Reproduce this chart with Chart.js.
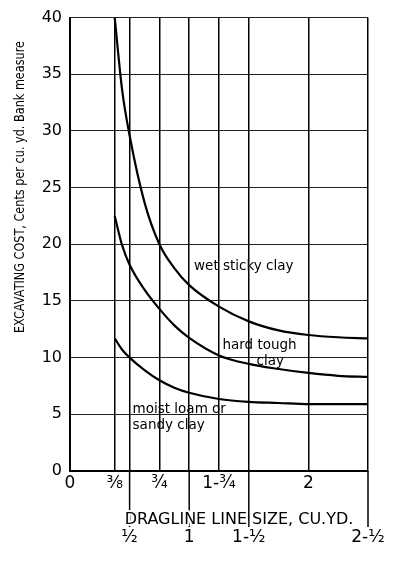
<!DOCTYPE html>
<html>
<head>
<meta charset="utf-8">
<script src="https://cdn.jsdelivr.net/npm/chart.js@4/dist/chart.umd.min.js"></script>
<style>
  html, body { margin: 0; padding: 0; background: #fff; }
  #wrap { width: 400px; height: 565px; position: relative; }
</style>
</head>
<body>
<div id="wrap"><canvas id="costChart"></canvas></div>
<script>
// dragline line size, cu. yd.
const lineSizes = [0.375, 0.4375, 0.5, 0.625, 0.75, 0.875, 1, 1.25, 1.5, 1.75, 2, 2.25, 2.5];

// excavating cost, cents per cu. yd. bank measure
const wetStickyClay = [40, 33.6, 29.6, 23.7, 20.0, 17.9, 16.4, 14.5, 13.2, 12.4, 12.0, 11.8, 11.7];
const hardToughClay = [22.5, 19.9, 18.2, 16.0, 14.3, 12.85, 11.75, 10.2, 9.45, 9.0, 8.65, 8.4, 8.3];
const moistLoam     = [11.7, 10.7, 10.0, 8.9, 8.0, 7.35, 6.9, 6.35, 6.1, 6.0, 5.9, 5.9, 5.9];

// x axis ticks (printed in two rows on the original)
const tickValues = [0, 0.375, 0.5, 0.75, 1, 1.25, 1.5, 2, 2.5];
const tickLabels = ['0', '\u215C', '\u00BD', '\u00BE', '1', '1-\u00BE', '1-\u00BD', '2', '2-\u00BD'];
const lowerRow   = [false, false, true, false, true, false, true, false, true];

const yMax = 40;
const yStep = 5;

const curveNotes = [
  { text: 'wet sticky clay', x: 1.458, y: 18.0, align: 'center' },
  { text: 'hard tough', x: 1.59, y: 11.1, align: 'center' },
  { text: 'clay', x: 1.68, y: 9.7, align: 'center' },
  { text: 'moist loam or', x: 0.525, y: 5.45, align: 'left' },
  { text: 'sandy clay', x: 0.525, y: 4.04, align: 'left' }
];

function toPoints(values) {
  return lineSizes.map((s, i) => ({ x: s, y: values[i] }));
}

function curve(label, values) {
  return {
    label: label,
    data: toPoints(values),
    showLine: true,
    borderColor: '#000',
    borderWidth: 2.2,
    pointRadius: 0,
    cubicInterpolationMode: 'monotone',
    fill: false
  };
}

// notes on the curves, axis titles and the long tick lines below the axis
const extras = {
  id: 'extras',
  afterDraw(chart) {
    const { ctx, chartArea, scales } = chart;
    const x = scales.x, y = scales.y;
    ctx.save();

    ctx.strokeStyle = '#000';
    ctx.lineWidth = 1.5;
    tickValues.forEach((v, i) => {
      if (!lowerRow[i]) return;
      const px = x.getPixelForValue(v);
      ctx.beginPath();
      ctx.moveTo(px, chartArea.bottom);
      ctx.lineTo(px, chartArea.bottom + 56);
      ctx.stroke();
    });

    ctx.fillStyle = '#000';
    ctx.textBaseline = 'middle';
    ctx.font = '13.5px "DejaVu Sans"';
    curveNotes.forEach(n => {
      ctx.textAlign = n.align;
      ctx.fillText(n.text, x.getPixelForValue(n.x), y.getPixelForValue(n.y));
    });

    // x title
    ctx.font = '16px "DejaVu Sans"';
    ctx.textAlign = 'center';
    ctx.lineWidth = 4;
    ctx.strokeStyle = '#fff';
    ctx.strokeText('DRAGLINE LINE SIZE, CU.YD.', 239, 520);
    ctx.fillText('DRAGLINE LINE SIZE, CU.YD.', 239, 520);

    // y title
    ctx.translate(20, 187);
    ctx.rotate(-Math.PI / 2);
    ctx.font = '14px "DejaVu Sans"';
    ctx.fillText('EXCAVATING COST, Cents per cu. yd. Bank measure', 0, 0, 292);

    ctx.restore();
  }
};

document.addEventListener('DOMContentLoaded', function() {
  const ctx = document.getElementById('costChart').getContext('2d');
  new Chart(ctx, {
    type: 'scatter',
    data: {
      datasets: [
        curve('wet sticky clay', wetStickyClay),
        curve('hard tough clay', hardToughClay),
        curve('moist loam or sandy clay', moistLoam)
      ]
    },
    options: {
      responsive: true,
      maintainAspectRatio: false,
      animation: false,
      layout: { padding: { top: 15, right: 32, left: 0, bottom: 0 } },
      plugins: {
        legend: { display: false },
        tooltip: { enabled: false }
      },
      scales: {
        x: {
          type: 'linear',
          min: 0,
          max: 2.5,
          afterBuildTicks: function(scale) {
            scale.ticks = tickValues.map(v => ({ value: v }));
          },
          afterFit: function(scale) { scale.height = 94; },
          grid: { color: '#000', lineWidth: 1.5, drawTicks: false },
          border: { color: '#000', width: 2 },
          ticks: {
            autoSkip: false,
            maxRotation: 0,
            minRotation: 0,
            padding: 4,
            color: '#000',
            font: { family: 'DejaVu Sans', size: 17, lineHeight: 1.05 },
            callback: function(value) {
              const i = tickValues.indexOf(value);
              if (i < 0) return '';
              return lowerRow[i] ? ['', '', '', tickLabels[i]] : tickLabels[i];
            }
          }
        },
        y: {
          min: 0,
          max: yMax,
          afterFit: function(scale) { scale.width = 70; },
          grid: { color: '#222', lineWidth: 1, drawTicks: false },
          border: { color: '#000', width: 2 },
          ticks: {
            stepSize: yStep,
            padding: 8,
            color: '#000',
            font: { family: 'DejaVu Sans', size: 16 }
          }
        }
      }
    },
    plugins: [extras]
  });
});
</script>
</body>
</html>
